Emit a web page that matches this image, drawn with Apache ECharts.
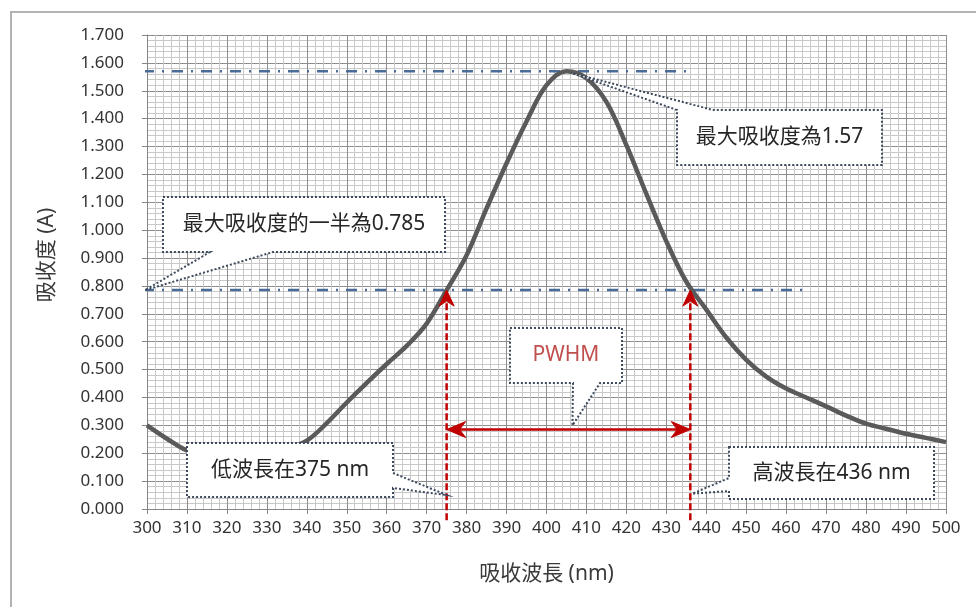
<!DOCTYPE html>
<html>
<head>
<meta charset="utf-8">
<script src="https://cdn.jsdelivr.net/npm/echarts@6/dist/echarts.min.js"></script>
<style>
  html, body { margin: 0; padding: 0; background: #ffffff; }
  #chart { width: 976px; height: 607px; }
</style>
</head>
<body>
<div id="chart"></div>
<script>
// Absorption spectrum (wavelength in nm, absorbance in A)
const wavelengths = [300, 305, 310, 315, 320, 325, 330, 335, 340, 345, 350, 355, 360, 365, 370, 375,
                     380, 385, 390, 395, 400, 405, 410, 415, 420, 425, 430, 435, 440, 445, 450,
                     455, 460, 465, 470, 475, 480, 485, 490, 495, 500];
const absorbance  = [0.300, 0.252, 0.210, 0.198, 0.192, 0.192, 0.200, 0.216, 0.245, 0.308, 0.382, 0.452,
                     0.520, 0.585, 0.665, 0.785, 0.910, 1.078, 1.240, 1.390, 1.520, 1.570, 1.545,
                     1.460, 1.305, 1.130, 0.960, 0.815, 0.715, 0.615, 0.535, 0.475, 0.432, 0.400,
                     0.368, 0.335, 0.306, 0.288, 0.270, 0.255, 0.240];

// Key readings
const peakWavelength = 405;
const peakAbsorbance = 1.57;
const halfAbsorbance = 0.785;
const lowWavelength = 375;
const highWavelength = 436;
const pwhmArrowLevel = 0.285;

// Extents of the dash-dot guide lines (nm)
const peakGuideRange = [299, 435];
const halfGuideRange = [299, 464];

// Axis ranges
const xAxisRange = { min: 300, max: 500, interval: 10 };
const yAxisRange = { min: 0, max: 1.7, interval: 0.1 };

// Axis titles and callout texts
const xTitle = '吸收波長 (nm)';
const yTitle = '吸收度 (A)';
const peakText = '最大吸收度為1.57';
const halfText = '最大吸收度的一半為0.785';
const pwhmText = 'PWHM';
const lowText = '低波長在375 nm';
const highText = '高波長在436 nm';

const FONT = "'Noto Sans', 'Noto Sans CJK TC', sans-serif";
const chart = echarts.init(document.getElementById('chart'));

const spectrum = wavelengths.map((w, i) => [w, absorbance[i]]);
const guideStyle = { color: '#4a6c98', width: 2.5, type: [11, 8, 2, 8] };

chart.setOption({
  animation: false,
  backgroundColor: '#ffffff',
  grid: { left: 147, right: 30, top: 35, bottom: 98 },
  xAxis: {
    type: 'value',
    min: xAxisRange.min, max: xAxisRange.max, interval: xAxisRange.interval,
    name: xTitle, nameLocation: 'middle', nameGap: 55,
    nameTextStyle: { fontFamily: FONT, fontSize: 21, color: '#3a3a3a' },
    axisLine: { show: true, lineStyle: { color: '#868686', width: 1 } },
    axisTick: { show: true, length: 5, lineStyle: { color: '#868686' } },
    axisLabel: { fontFamily: FONT, fontSize: 17, color: '#333333', margin: 11,
                 showMinLabel: true, showMaxLabel: true },
    splitLine: { show: true, lineStyle: { color: '#8e8e8e', width: 1 } },
    minorTick: { show: false, splitNumber: 5 },
    minorSplitLine: { show: true, lineStyle: { color: '#c9c9c9', width: 1 } }
  },
  yAxis: {
    type: 'value',
    min: yAxisRange.min, max: yAxisRange.max, interval: yAxisRange.interval,
    axisLine: { show: true, lineStyle: { color: '#868686', width: 1 } },
    axisTick: { show: true, length: 5, lineStyle: { color: '#868686' } },
    axisLabel: { fontFamily: FONT, fontSize: 17, color: '#333333', margin: 23,
                 formatter: v => v.toFixed(3) },
    splitLine: { show: true, lineStyle: { color: '#8e8e8e', width: 1 } },
    minorTick: { show: false, splitNumber: 5 },
    minorSplitLine: { show: true, lineStyle: { color: '#c9c9c9', width: 1 } }
  },
  series: [
    {
      name: 'peak guide', type: 'line', symbol: 'none', z: 2, silent: true, clip: false,
      data: [[peakGuideRange[0], peakAbsorbance], [peakGuideRange[1], peakAbsorbance]],
      lineStyle: guideStyle
    },
    {
      name: 'half guide', type: 'line', symbol: 'none', z: 2, silent: true, clip: false,
      data: [[halfGuideRange[0], halfAbsorbance], [halfGuideRange[1], halfAbsorbance]],
      lineStyle: guideStyle
    },
    {
      name: '吸收度', type: 'line', symbol: 'none', z: 3, smooth: 0.35,
      data: spectrum,
      lineStyle: { color: '#5a5a5a', width: 4.5 }
    }
  ]
});

// ---------- annotations (positioned through the chart's own coordinate system) ----------
const px = (x, y) => chart.convertToPixel({ gridIndex: 0 }, [x, y]);
const RED = '#c00000';
const elements = [];

function arrowHead(tip, from, len, half, notch) {
  const dx = tip[0] - from[0], dy = tip[1] - from[1];
  const d = Math.hypot(dx, dy);
  const ux = dx / d, uy = dy / d, nx = -uy, ny = ux;
  return {
    type: 'polygon', z: 120, silent: true,
    shape: { points: [
      tip,
      [tip[0] - ux * len + nx * half, tip[1] - uy * len + ny * half],
      [tip[0] - ux * (len - notch), tip[1] - uy * (len - notch)],
      [tip[0] - ux * len - nx * half, tip[1] - uy * len - ny * half]
    ] },
    style: { fill: RED, stroke: RED, lineWidth: 1 }
  };
}

// Vertical dashed markers from below the axis up to the half-maximum crossings
[lowWavelength, highWavelength].forEach(w => {
  const top = px(w, halfAbsorbance);
  const bottom = px(w, -0.04);
  elements.push({
    type: 'line', z: 110, silent: true,
    shape: { x1: bottom[0], y1: bottom[1], x2: top[0], y2: top[1] + 10 },
    style: { stroke: RED, lineWidth: 2.5, lineDash: [7, 3] }
  });
  elements.push(arrowHead(top, bottom, 16, 7.5, 5));
});

// Double-headed PWHM arrow
(function () {
  const a = px(lowWavelength, pwhmArrowLevel);
  const b = px(highWavelength, pwhmArrowLevel);
  elements.push({
    type: 'line', z: 110, silent: true,
    shape: { x1: a[0] + 10, y1: a[1], x2: b[0] - 10, y2: b[1] },
    style: { stroke: RED, lineWidth: 2.5 }
  });
  elements.push(arrowHead(a, b, 19, 8, 6));
  elements.push(arrowHead(b, a, 19, 8, 6));
})();

// Dotted speech-bubble callouts
function callout(box, side, base, tip, text, color) {
  const L = box.x, T = box.y, R = box.x + box.w, B = box.y + box.h;
  let pts;
  if (side === 'top') {
    pts = [[L, T], [base[0], T], tip, [base[1], T], [R, T], [R, B], [L, B]];
  } else if (side === 'bottom') {
    pts = [[L, T], [R, T], [R, B], [base[1], B], tip, [base[0], B], [L, B]];
  } else if (side === 'right') {
    pts = [[L, T], [R, T], [R, base[0]], tip, [R, base[1]], [R, B], [L, B]];
  } else {
    pts = [[L, T], [R, T], [R, B], [L, B], [L, base[1]], tip, [L, base[0]]];
  }
  elements.push({
    type: 'polygon', z: 130, silent: true,
    shape: { points: pts },
    style: { fill: '#ffffff', stroke: '#3e4b5e', lineWidth: 2, lineDash: [2, 2] }
  });
  elements.push({
    type: 'text', z: 131, silent: true,
    style: {
      text: text, x: (L + R) / 2, y: (T + B) / 2,
      font: '21px ' + FONT, fill: color,
      align: 'center', verticalAlign: 'middle',
      textAlign: 'center', textVerticalAlign: 'middle'
    }
  });
}

callout({ x: 677, y: 110, w: 205, h: 55 }, 'top', [677, 713],
        px(peakWavelength + 1, peakAbsorbance - 0.005), peakText, '#262626');
callout({ x: 163, y: 197, w: 282, h: 55 }, 'bottom', [210, 273],
        px(299.5, halfAbsorbance), halfText, '#262626');
callout({ x: 510, y: 328, w: 112, h: 55 }, 'bottom', [573, 600],
        px(406.5, pwhmArrowLevel + 0.015), pwhmText, '#c0504d');
callout({ x: 187, y: 443, w: 206, h: 54 }, 'right', [473, 488],
        px(lowWavelength, 0.05), lowText, '#262626');
callout({ x: 729, y: 447, w: 205, h: 52 }, 'left', [478, 491],
        px(highWavelength + 0.5, 0.055), highText, '#262626');

// Vertical axis title
elements.push({
  type: 'text', z: 50, silent: true,
  x: 47, y: 255, rotation: Math.PI / 2,
  style: {
    text: yTitle, x: 0, y: 0, font: '21px ' + FONT, fill: '#3a3a3a',
    align: 'center', verticalAlign: 'middle',
    textAlign: 'center', textVerticalAlign: 'middle'
  }
});

// Outer chart frame
elements.push({
  type: 'rect', z: 0, silent: true,
  shape: { x: 11, y: 12, width: 1000, height: 700 },
  style: { fill: 'none', stroke: '#b3b3b3', lineWidth: 2 }
});

chart.setOption({ graphic: { elements: elements } });
</script>
</body>
</html>
